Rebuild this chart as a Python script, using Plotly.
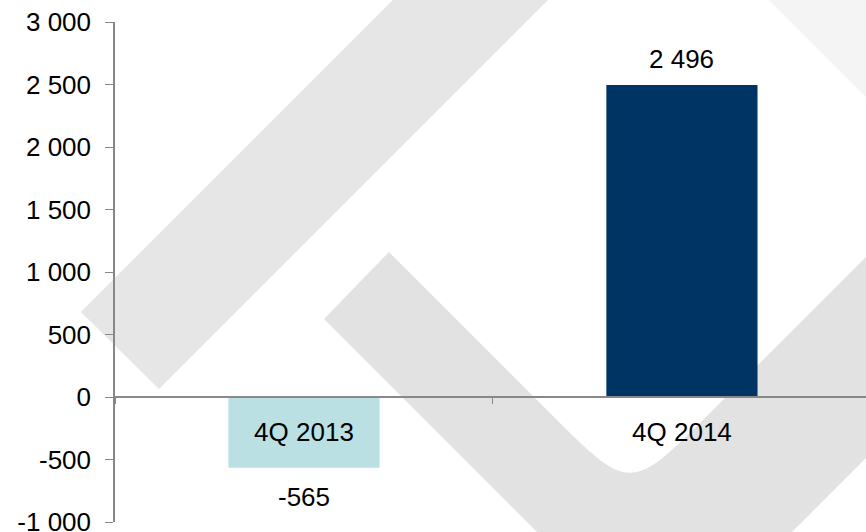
import plotly.graph_objects as go

# data
quarters = ['4Q 2013', '4Q 2014']
values = [-565, 2496]
bar_colors = ['#bae0e3', '#003464']
y_ticks = [-1000, -500, 0, 500, 1000, 1500, 2000, 2500, 3000]


def fmt(v):
    # space as thousands separator, plain hyphen for negatives
    return f'{v:,}'.replace(',', ' ')


W, H = 866, 532
L, R, T, B = 115, 0, 22, 10


def px(x, y):
    # pixel position -> paper coords (watermark only)
    return (x - L) / (W - L - R), (H - B - y) / (H - T - B)


def path(points, curve=None):
    s = ''
    for i, (x, y) in enumerate(points):
        if curve is not None and i == curve[0]:
            c1 = px(*curve[1]); c2 = px(*curve[2]); p = px(x, y)
            s += f' C {c1[0]:.4f} {c1[1]:.4f} {c2[0]:.4f} {c2[1]:.4f} {p[0]:.4f} {p[1]:.4f}'
            continue
        p = px(x, y)
        s += f' {"M" if i == 0 else "L"} {p[0]:.4f} {p[1]:.4f}'
    return s + ' Z'


fig = go.Figure()

fig.add_trace(go.Bar(
    x=quarters, y=values,
    marker=dict(color=bar_colors, line=dict(width=0)),
    width=0.4,
    showlegend=False,
    hoverinfo='x+y'
))

# value labels
for q, v in zip(quarters, values):
    fig.add_annotation(
        x=q, y=v, text=fmt(v), showarrow=False,
        yanchor='bottom' if v >= 0 else 'top',
        yshift=9 if v >= 0 else -12,
        font=dict(size=26, color='#000000', family='Liberation Sans, Arial')
    )

# background logo watermark
shapes = [
    dict(path=path([(81, 312), (159, 389), (578, -30), (423, -30)]),
         fillcolor='#e6e6e6'),
    dict(path=path([(324, 319), (389, 252), (540, 403), (720, 403), (900, 223),
                    (900, 424), (758, 566), (571, 566)],
                   curve=(3, (633, 496), (627, 496))),
         fillcolor='#e2e2e2'),
    dict(path=path([(767, -2), (900, -2), (900, 131)]), fillcolor='#f4f4f4'),
]
for s in shapes:
    fig.add_shape(type='path', xref='paper', yref='paper', layer='below',
                  line=dict(width=0), **s)

fig.update_layout(
    width=W, height=H,
    margin=dict(l=L, r=R, t=T, b=B, autoexpand=False),
    paper_bgcolor='white',
    plot_bgcolor='rgba(0,0,0,0)',
    font=dict(family='Liberation Sans, Arial', size=26, color='#000000'),
    bargap=0.6,
)

fig.update_xaxes(
    range=[-0.5, 1.487],
    anchor='free', position=0.25,
    showline=True, linecolor='#888888', linewidth=1.5,
    ticks='outside', tickson='boundaries', ticklen=6, tickcolor='#888888',
    showgrid=False, zeroline=False, automargin=False,
    tickfont=dict(size=26),
    ticklabelstandoff=12,
)

fig.update_yaxes(
    range=[-1000, 3000],
    tickvals=y_ticks, ticktext=[fmt(v) for v in y_ticks],
    showline=True, linecolor='#888888', linewidth=1.5,
    ticks='outside', ticklen=8, tickcolor='#888888',
    showgrid=False, zeroline=False, automargin=False,
    ticklabeloverflow='allow',
    tickfont=dict(size=26),
    ticklabelstandoff=9,
)

# page body has a default 8px margin; drop it so the figure sits at 0,0
fig.write_html('out.html', config={'displayModeBar': False},
               post_script="document.body.style.margin='0';")
